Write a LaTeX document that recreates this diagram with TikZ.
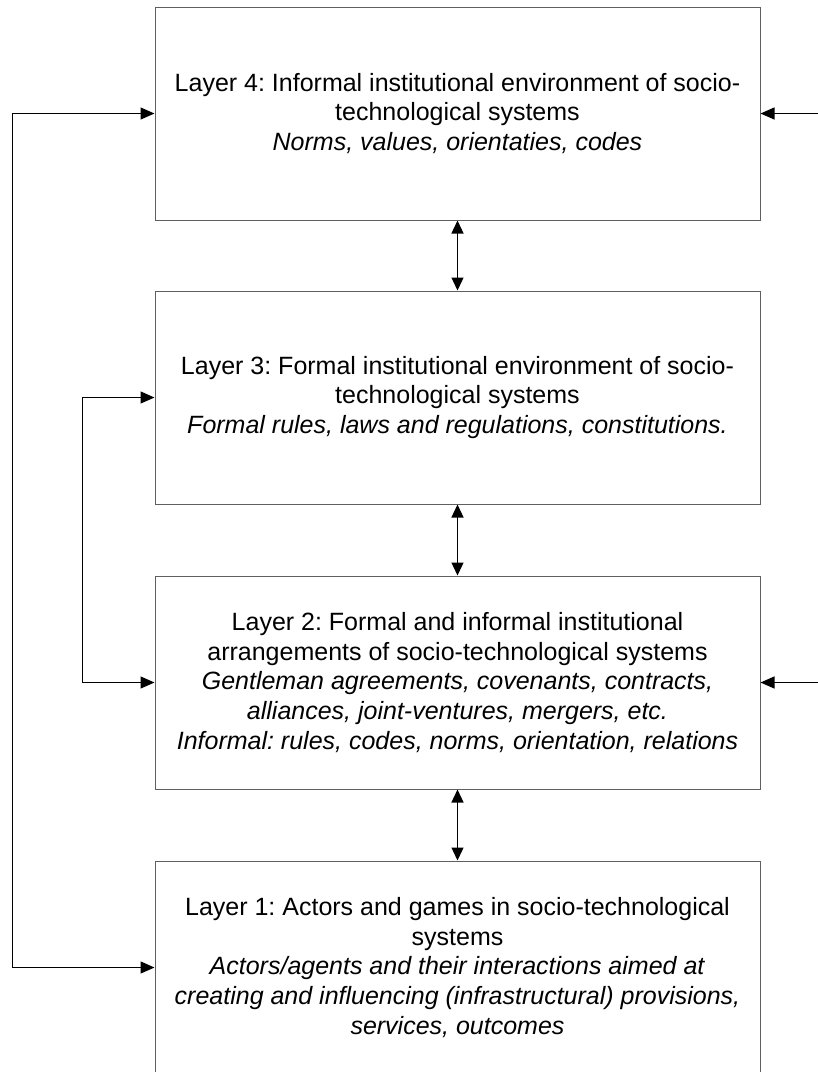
\documentclass[tikz,border=0pt]{standalone}
\usepackage{fontspec}
\setmainfont{Liberation Sans}
\usetikzlibrary{arrows.meta}
\frenchspacing

\tikzset{
  layerbox/.style={draw={rgb,255:red,95;green,95;blue,95}, line width=1pt, fill=white,
    minimum width=605pt, minimum height=213pt, inner sep=0pt, align=center,
    font=\fontsize{25}{29.8}\selectfont},
  link/.style={line width=1.3pt, draw=black},
  tip/.style={-{Triangle[length=14pt,width=12pt]}},
  tips/.style={{Triangle[length=13pt,width=12pt]}-{Triangle[length=13pt,width=12pt]}},
}

\begin{document}
\begin{tikzpicture}[x=1pt,y=-1pt]
  \useasboundingbox (0,0) rectangle (818,1072);
  \clip (0,0) rectangle (818,1072);

  % the four layers
  \node[layerbox] (l4) at (457.5,113.5) {Layer 4: Informal institutional environment of socio-\\technological systems\\\textit{Norms, values, orientaties, codes}};
  \node[layerbox] (l3) at (457.5,397.5) {Layer 3: Formal institutional environment of socio-\\technological systems\\\textit{Formal rules, laws and regulations, constitutions.}};
  \node[layerbox] (l2) at (457.5,682.5) {Layer 2: Formal and informal institutional\\arrangements of socio-technological systems\\\textit{Gentleman agreements, covenants, contracts,}\\\textit{alliances, joint-ventures, mergers, etc.}\\\textit{Informal: rules, codes, norms, orientation, relations}};
  \node[layerbox] (l1) at (457.5,967.5) {Layer 1: Actors and games in socio-technological\\systems\\\textit{Actors/agents and their interactions aimed at}\\\textit{creating and influencing (infrastructural) provisions,}\\\textit{services, outcomes}};

  % links between neighbouring layers
  \draw[link,tips] (l4.south) -- (l3.north);
  \draw[link,tips] (l3.south) -- (l2.north);
  \draw[link,tips] (l2.south) -- (l1.north);

  % feedback loops on the left
  \draw[link,{Triangle[length=14pt,width=12pt]}-{Triangle[length=14pt,width=12pt]}]
    (l1.west) -- ++(-142,0) |- (l4.west);
  \draw[link,{Triangle[length=14pt,width=12pt]}-{Triangle[length=14pt,width=12pt]}]
    (l2.west) -- ++(-72,0) |- (l3.west);

  % incoming influences from the right
  \coordinate (in4) at (818,113.5);
  \coordinate (in2) at (818,682.5);
  \draw[link,tip] (in4) -- (l4.east);
  \draw[link,tip] (in2) -- (l2.east);
\end{tikzpicture}
\end{document}
